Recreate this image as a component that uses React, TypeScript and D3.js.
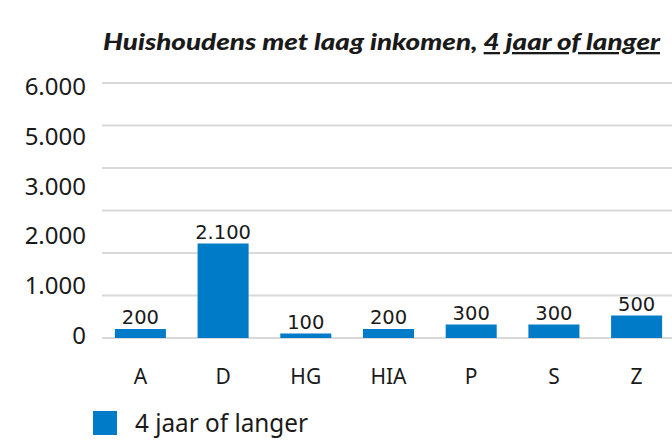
import React from "react";
import * as d3 from "d3";

const categories = ["A", "D", "HG", "HIA", "P", "S", "Z"];
const values = [200, 2100, 100, 200, 300, 300, 500];
const valueLabels = ["200", "2.100", "100", "200", "300", "300", "500"];
const gridValues = [0, 1000, 2000, 3000, 4000, 5000, 6000];
const tickLabels = ["0", "1.000", "2.000", "3.000", "5.000", "6.000"];
const titleMain = "Huishoudens met laag inkomen, ";
const titleUnderlined = "4 jaar of langer";
const seriesName = "4 jaar of langer";

const W = 672;
const H = 440;
const BLUE = "#007BC7";
const TEXT = "#1a1a1a";
const SANS = "'Noto Sans', 'Open Sans', sans-serif";

export default function App() {
  const x = d3
    .scaleBand<string>()
    .domain(categories)
    .range([99, 678])
    .paddingInner(0.383)
    .paddingOuter(0.192);

  const yGrid = d3.scaleLinear().domain([0, 6000]).range([338, 83]);
  const yBar = d3.scaleLinear().domain([0, 6000]).range([338, 68]);
  const yTick = d3.scalePoint<string>().domain(tickLabels).range([344, 95]);

  return (
    <svg
      width={W}
      height={H}
      style={{ position: "absolute", left: 0, top: 0, background: "#fff" }}
    >
      <text
        x={103}
        y={50}
        fontFamily="Lato, 'Noto Sans', sans-serif"
        fontWeight={900}
        fontStyle="italic"
        fontSize={23}
        fill={TEXT}
        textLength={557}
        lengthAdjust="spacingAndGlyphs"
      >
        {titleMain}
        <tspan textDecoration="underline">{titleUnderlined}</tspan>
      </text>

      {gridValues.map((v) => (
        <line
          key={v}
          x1={102}
          x2={672}
          y1={yGrid(v)}
          y2={yGrid(v)}
          stroke="#d9d9d9"
          strokeWidth={2}
        />
      ))}

      {tickLabels.map((t) => (
        <text
          key={t}
          x={86}
          y={yTick(t)}
          textAnchor="end"
          fontFamily={SANS}
          fontSize={24}
          fill={TEXT}
        >
          {t}
        </text>
      ))}

      {categories.map((c, i) => (
        <rect
          key={c}
          x={x(c)}
          y={yBar(values[i])}
          width={x.bandwidth()}
          height={yBar(0) - yBar(values[i])}
          fill={BLUE}
        />
      ))}

      {categories.map((c, i) => (
        <text
          key={c + "-lbl"}
          x={(x(c) as number) + x.bandwidth() / 2}
          y={yBar(values[i]) - 5}
          textAnchor="middle"
          fontFamily="'DejaVu Sans', sans-serif"
          fontSize={19.5}
          fill={TEXT}
        >
          {valueLabels[i]}
        </text>
      ))}

      {categories.map((c) => (
        <text
          key={c + "-cat"}
          x={(x(c) as number) + x.bandwidth() / 2}
          y={384}
          textAnchor="middle"
          fontFamily={SANS}
          fontSize={21}
          fill={TEXT}
        >
          {c}
        </text>
      ))}

      <rect x={93} y={411} width={24} height={24} fill={BLUE} />
      <text
        x={135}
        y={432}
        fontFamily={SANS}
        fontSize={25}
        fill={TEXT}
        textLength={173}
        lengthAdjust="spacingAndGlyphs"
      >
        {seriesName}
      </text>
    </svg>
  );
}
